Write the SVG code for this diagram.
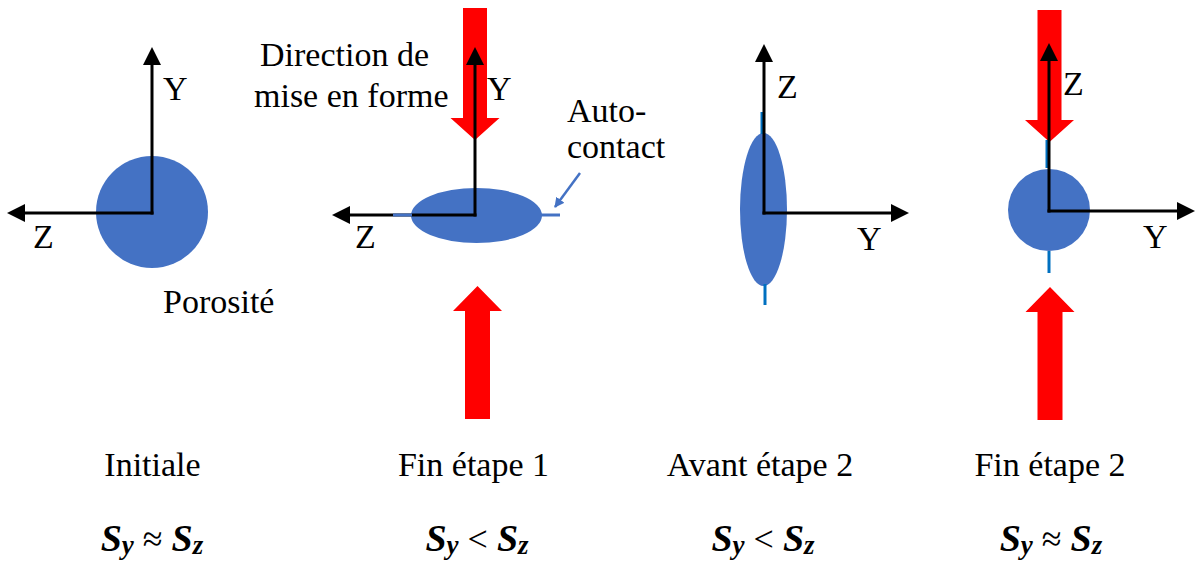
<svg xmlns="http://www.w3.org/2000/svg" width="1195" height="562" viewBox="0 0 1195 562">
<style>
text{font-family:"Liberation Serif","DejaVu Serif",serif;font-size:34px;fill:#000}
.ax{stroke:#000;stroke-width:3;fill:none}
.red{fill:#FF0000}
.por{fill:#4472C4}
.ac{stroke:#4472C4;stroke-width:3}
.ac2{stroke:#0070C0;stroke-width:3}
.lab{text-anchor:middle}
.S{font-weight:bold;font-style:italic;font-size:38px}
.sub{font-weight:bold;font-style:italic;font-size:27px}
.op{font-size:36px}
</style>
<defs>
<marker id="ah" markerUnits="userSpaceOnUse" markerWidth="18" markerHeight="18" refX="0" refY="9" orient="auto" viewBox="0 0 18 18">
<path d="M0,0 L18,9 L0,18 Z" fill="#000"/>
</marker>
<marker id="bh" markerUnits="userSpaceOnUse" markerWidth="10" markerHeight="10" refX="9" refY="5" orient="auto" viewBox="0 0 10 10">
<path d="M0,0 L10,5 L0,10 Z" fill="#4472C4"/>
</marker>
<path id="down" d="M-12,0 H12 V110 H24.5 L0,132 L-24.5,110 H-12 Z"/>
<path id="up" d="M0,0 L24.5,25 H12.5 V133 H-12.5 V25 H-24.5 Z"/>
</defs>

<g id="panel1">
<circle class="por" cx="152" cy="212" r="56"/>
<line class="ax" x1="152" y1="214.5" x2="152" y2="65" marker-end="url(#ah)"/>
<line class="ax" x1="153.5" y1="213" x2="25" y2="213" marker-end="url(#ah)"/>
<text x="163" y="100">Y</text>
<text x="33" y="248">Z</text>
<text x="163" y="313">Porosité</text>
</g>

<g id="panel2">
<use href="#down" class="red" transform="translate(475,8)"/>
<use href="#up" class="red" transform="translate(477.5,286)"/>
<ellipse class="por" cx="476.5" cy="215.5" rx="65.5" ry="27.5"/>
<line class="ax" x1="475" y1="216.5" x2="475" y2="65" marker-end="url(#ah)"/>
<line class="ax" x1="476.5" y1="215" x2="350" y2="215" marker-end="url(#ah)"/>
<line class="ac" x1="393" y1="215" x2="412" y2="215"/>
<line class="ac" x1="541" y1="215" x2="560" y2="215"/>
<text x="260" y="66">Direction de</text>
<text x="254" y="107">mise en forme</text>
<text x="487" y="100">Y</text>
<text x="355" y="248">Z</text>
<text x="567" y="122">Auto-</text>
<text x="567" y="158">contact</text>
</g>

<g id="panel3">
<ellipse class="por" cx="763.5" cy="209.5" rx="23.5" ry="76.5"/>
<line class="ac2" x1="762" y1="112" x2="762" y2="134"/>
<line class="ac2" x1="765" y1="284" x2="765" y2="305"/>
<line class="ax" x1="764" y1="214.5" x2="764" y2="62" marker-end="url(#ah)"/>
<line class="ax" x1="762.5" y1="213" x2="891" y2="213" marker-end="url(#ah)"/>
<text x="777" y="98">Z</text>
<text x="857" y="250">Y</text>
</g>

<g id="panel4">
<use href="#down" class="red" transform="translate(1049.5,10)"/>
<use href="#up" class="red" transform="translate(1050,287)"/>
<circle class="por" cx="1049" cy="210" r="41"/>
<line class="ac2" x1="1047" y1="140" x2="1047" y2="168"/>
<line class="ac2" x1="1049" y1="251" x2="1049" y2="273"/>
<line class="ax" x1="1049" y1="212.5" x2="1049" y2="61" marker-end="url(#ah)"/>
<line class="ax" x1="1047.5" y1="211" x2="1177" y2="211" marker-end="url(#ah)"/>
<text x="1063" y="95">Z</text>
<text x="1143" y="248">Y</text>
</g>

<g id="connectors">
<line x1="580" y1="173" x2="555" y2="207" stroke="#4472C4" stroke-width="2.5" marker-end="url(#bh)"/>
</g>

<g id="captions">
<text class="lab" x="152.5" y="476">Initiale</text>
<text class="lab" x="473.5" y="476">Fin étape 1</text>
<text class="lab" x="760" y="476">Avant étape 2</text>
<text class="lab" x="1050" y="476">Fin étape 2</text>
<text class="lab" x="152" y="551"><tspan class="S">S</tspan><tspan class="sub" dy="3">y</tspan><tspan class="op" dy="-3"> ≈ </tspan><tspan class="S">S</tspan><tspan class="sub" dy="3">z</tspan></text>
<text class="lab" x="477" y="551"><tspan class="S">S</tspan><tspan class="sub" dy="3">y</tspan><tspan class="op" dy="-3"> &lt; </tspan><tspan class="S">S</tspan><tspan class="sub" dy="3">z</tspan></text>
<text class="lab" x="763" y="551"><tspan class="S">S</tspan><tspan class="sub" dy="3">y</tspan><tspan class="op" dy="-3"> &lt; </tspan><tspan class="S">S</tspan><tspan class="sub" dy="3">z</tspan></text>
<text class="lab" x="1051" y="551"><tspan class="S">S</tspan><tspan class="sub" dy="3">y</tspan><tspan class="op" dy="-3"> ≈ </tspan><tspan class="S">S</tspan><tspan class="sub" dy="3">z</tspan></text>
</g>
</svg>
